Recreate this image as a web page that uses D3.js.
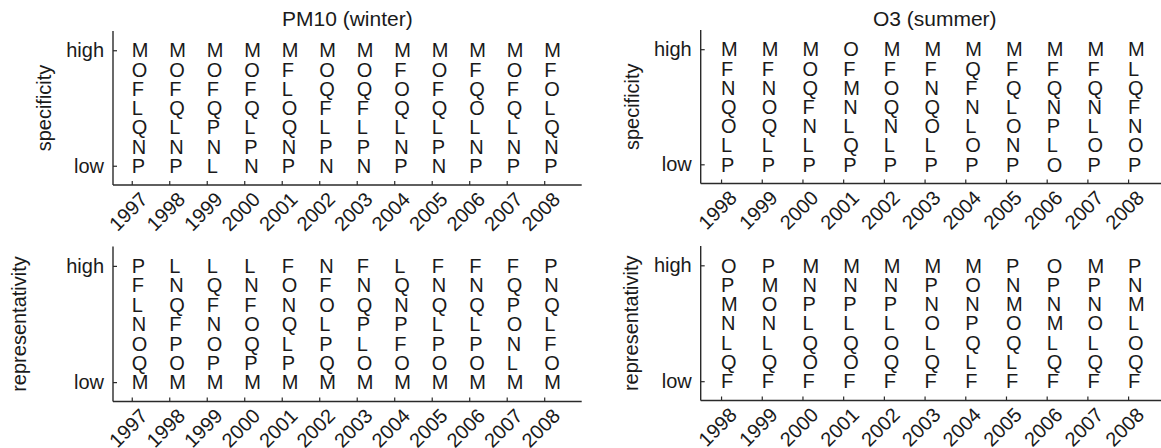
<!DOCTYPE html>
<html>
<head>
<meta charset="utf-8">
<script src="https://cdn.jsdelivr.net/npm/d3@7"></script>
<style>
  html, body { margin: 0; padding: 0; background: #fff; }
  svg { display: block; }
  text { font-family: "Liberation Sans", Arial, Helvetica, sans-serif; fill: #1a1a1a; }
</style>
</head>
<body>
<svg id="chart" width="1161" height="448"></svg>
<script>
// ---------- data (each string lists the letters from "high" (top) to "low" (bottom)) ----------
const pm10Years = ["1997","1998","1999","2000","2001","2002","2003","2004","2005","2006","2007","2008"];
const o3Years   = ["1998","1999","2000","2001","2002","2003","2004","2005","2006","2007","2008"];

const pm10Specificity = ["MOFLQNP","MOFQLNP","MOFQPNL","MOFQLPN","MFLOQNP","MOQFLPN",
                         "MOQFLPN","MFOQLNP","MOFQLPN","MFQOLNP","MOFQLNP","MFOLQNP"];
const pm10Representativity = ["PFLNOQM","LNQFPOM","LQFNOPM","LNFOQPM","FONQLPM","NFOLPQM",
                              "FNQPLOM","LQNPFOM","FNQLPOM","FNQLPOM","FQPONLM","PNQLFOM"];
const o3Specificity = ["MFNQOLP","MFNOQLP","MOQFNLP","OFMNLQP","MFOQNLP","MFNQOLP",
                       "MQFNLOP","MFQLONP","MFQNPLO","MFQNLOP","MLQFNOP"];
const o3Representativity = ["OPMNLQF","PMONLQF","MNPLQOF","MNPLQOF","MNPLOQF","MPNOLQF",
                            "MONPQLF","PNMOQLF","OPNMLQF","MPNOLQF","PNMLOQF"];

const rankTicks = [1, 7];
const rankTickLabels = ["low", "high"];
const titles = ["PM10 (winter)", "O3 (summer)"];
const yLabels = ["specificity", "representativity"];

// ---------- layout ----------
const svg = d3.select("#chart");
const FS = 20;
const ink = "#1a1a1a";

const panels = [
  { years: pm10Years, cols: pm10Specificity, x0: 113, x1: 581.7, yTop: 31, yBot: 185, xDom: [1996.5, 2009],
    title: titles[0], ylab: yLabels[0], ylabX: 51 },
  { years: o3Years, cols: o3Specificity, x0: 700.7, x1: 1168.8, yTop: 30, yBot: 183.5, xDom: [1997.5, 2009],
    title: titles[1], ylab: yLabels[0], ylabX: 639 },
  { years: pm10Years, cols: pm10Representativity, x0: 113, x1: 581.7, yTop: 246.5, yBot: 401.5, xDom: [1996.5, 2009],
    title: null, ylab: yLabels[1], ylabX: 26 },
  { years: o3Years, cols: o3Representativity, x0: 700.7, x1: 1168.8, yTop: 246, yBot: 400.5, xDom: [1997.5, 2009],
    title: null, ylab: yLabels[1], ylabX: 638 }
];

panels.forEach(p => {
  const x = d3.scaleLinear().domain(p.xDom).range([p.x0, p.x1]);
  const y = d3.scaleLinear().domain([0, 8]).range([p.yBot, p.yTop]);
  const g = svg.append("g");

  // letters
  p.years.forEach((yr, i) => {
    const letters = p.cols[i].split("");
    letters.forEach((ch, j) => {
      g.append("text")
        .attr("x", x(+yr))
        .attr("y", y(7 - j))
        .attr("dy", "0.36em")
        .attr("font-size", FS)
        .text(ch);
    });
  });

  // y axis
  const yAxis = d3.axisLeft(y).tickValues(rankTicks)
    .tickFormat((d, i) => rankTickLabels[i]).tickSizeInner(-4).tickSizeOuter(0).tickPadding(9);
  const ya = g.append("g").attr("transform", `translate(${p.x0},0)`).call(yAxis);
  ya.select(".domain").attr("d", `M0,${p.yTop}V${p.yBot}`);

  // x axis
  const xAxis = d3.axisBottom(x).tickValues(p.years.map(Number))
    .tickFormat(d => String(d)).tickSizeInner(-4).tickSizeOuter(0);
  const xa = g.append("g").attr("transform", `translate(0,${p.yBot})`).call(xAxis);
  xa.select(".domain").attr("d", `M${p.x0},0H${p.x1}`);
  xa.selectAll(".tick text")
    .attr("text-anchor", "end")
    .attr("y", 0)
    .attr("dy", "0.33em")
    .attr("transform", "translate(12,11) rotate(-45)");

  [ya, xa].forEach(a => {
    a.attr("font-size", FS).attr("font-family", null);
    a.selectAll(".domain").attr("stroke", "#2a2a2a").attr("stroke-width", 1.4);
    a.selectAll(".tick line").attr("stroke", "#2a2a2a").attr("stroke-width", 1.2);
    a.selectAll(".tick text").attr("fill", ink);
  });

  // y label
  g.append("text")
    .attr("transform", `translate(${p.ylabX},${(p.yTop + p.yBot) / 2}) rotate(-90)`)
    .attr("text-anchor", "middle")
    .attr("font-size", FS)
    .text(p.ylab);

  // title
  if (p.title) {
    g.append("text")
      .attr("x", (p.x0 + p.x1) / 2)
      .attr("y", 25.5)
      .attr("text-anchor", "middle")
      .attr("font-size", 21)
      .text(p.title);
  }
});
</script>
</body>
</html>
